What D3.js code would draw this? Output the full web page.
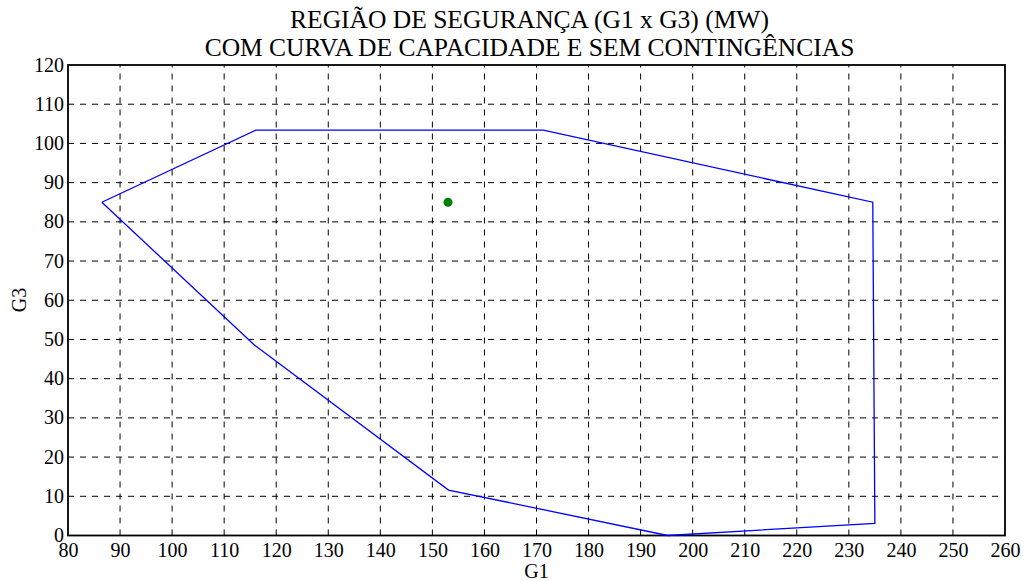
<!DOCTYPE html>
<html><head><meta charset="utf-8">
<script src="https://cdn.jsdelivr.net/npm/d3@7"></script>
<style>body{margin:0;background:#fff}svg{display:block}</style>
</head><body><svg id="c" width="1028" height="581"></svg>
<script>
const titleLines = ["REGIÃO DE SEGURANÇA (G1 x G3) (MW)", "COM CURVA DE CAPACIDADE E SEM CONTINGÊNCIAS"];
const xLabel = "G1", yLabel = "G3";
const xTicks = [80,90,100,110,120,130,140,150,160,170,180,190,200,210,220,230,240,250,260];
const yTicks = [0,10,20,30,40,50,60,70,80,90,100,110,120];
const regionG1 = [86.5, 116.1, 171.3, 234.6, 235.0, 195.2, 153.1, 115.8, 86.5];
const regionG3 = [85.0, 103.4, 103.4, 85.0, 3.1, 0.0, 11.6, 48.6, 85.0];
const opG1 = [153.0];
const opG3 = [85.0];

const FONT = "'Liberation Serif', Tinos, 'Times New Roman', 'DejaVu Serif', serif";
const svg = d3.select("#c");
const m = {l:68, r:1005, t:65, b:535.5};
const x = d3.scaleLinear().domain([80,260]).range([m.l, m.r]);
const y = d3.scaleLinear().domain([0,120]).range([m.b, m.t]);

// grid
const g = svg.append("g");
g.selectAll(".gx").data(xTicks.slice(1,-1)).join("line")
  .attr("x1", d=>x(d)).attr("x2", d=>x(d)).attr("y1", m.b).attr("y2", m.t)
  .attr("stroke","#000").attr("stroke-width",1).attr("stroke-dasharray","6,6");
g.selectAll(".gy").data(yTicks.slice(1,-1)).join("line")
  .attr("y1", d=>y(d)).attr("y2", d=>y(d)).attr("x1", m.l).attr("x2", m.r)
  .attr("stroke","#000").attr("stroke-width",1).attr("stroke-dasharray","6,6");

// axes
const xa = svg.append("g").attr("transform",`translate(0,${m.b})`)
  .call(d3.axisBottom(x).tickValues(xTicks).tickSize(0).tickPadding(7).tickFormat(d3.format("d")));
const ya = svg.append("g").attr("transform",`translate(${m.l},0)`)
  .call(d3.axisLeft(y).tickValues(yTicks).tickSize(0).tickPadding(4).tickFormat(d3.format("d")));
[xa, ya].forEach(a=>{a.attr("font-family",FONT).attr("font-size",20); a.select(".domain").remove(); a.selectAll("text").attr("fill","#000");});
ya.selectAll("text").attr("dy","0.3em");

// frame
svg.append("rect").attr("x",m.l).attr("y",m.t).attr("width",m.r-m.l).attr("height",m.b-m.t)
  .attr("fill","none").attr("stroke","#000").attr("stroke-width",1.8);

// region polygon
const pts = regionG1.map((v,i)=>[v, regionG3[i]]);
svg.append("path").attr("d", d3.line().x(d=>x(d[0])).y(d=>y(d[1]))(pts))
  .attr("fill","none").attr("stroke","#0000ff").attr("stroke-width",1.3);

// operating point
svg.selectAll(".op").data(opG1.map((v,i)=>[v,opG3[i]])).join("circle")
  .attr("cx", d=>x(d[0])).attr("cy", d=>y(d[1])).attr("r",4.5).attr("fill","#008000");

// title
svg.selectAll(".t").data(titleLines).join("text")
  .attr("x", (m.l+m.r)/2 - 7).attr("y",(d,i)=>28+i*28).attr("text-anchor","middle")
  .attr("font-family",FONT).attr("font-size",25.5).attr("fill","#000").text(d=>d);

svg.append("text").attr("x",(m.l+m.r)/2).attr("y",578).attr("text-anchor","middle")
  .attr("font-family",FONT).attr("font-size",20).attr("fill","#000").text(xLabel);
svg.append("text").attr("transform","translate(26,300) rotate(-90)").attr("text-anchor","middle")
  .attr("font-family",FONT).attr("font-size",20).attr("fill","#000").text(yLabel);
</script></body></html>
